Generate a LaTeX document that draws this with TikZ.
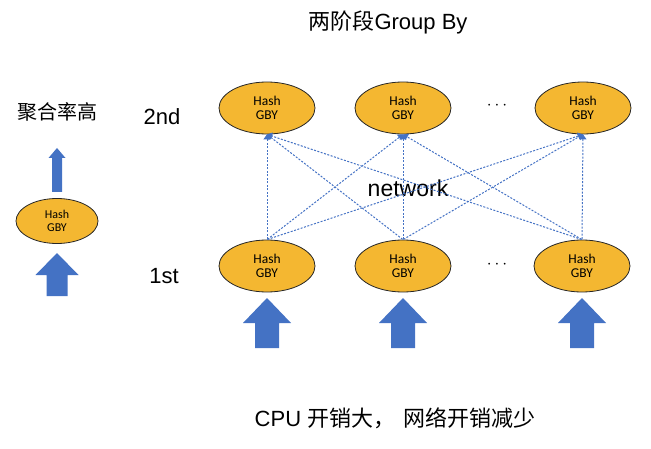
\documentclass[tikz,border=0pt]{standalone}
\usepackage{fontspec}
\setmainfont{Liberation Sans}
\newfontfamily\cjk{Noto Sans CJK SC}
\newfontfamily\gbyfont{Carlito}
\usepackage{xcolor}
\usepackage{tikz}
\usetikzlibrary{shapes,arrows.meta,positioning}
\definecolor{gbyfill}{HTML}{F4B731}
\definecolor{flowblue}{HTML}{4472C4}

\begin{document}
\begin{tikzpicture}[
        x=1pt, y=1pt,
        gby/.style={ellipse, draw=black!85, line width=0.8pt, fill=gbyfill, minimum width=96pt, minimum height=52pt, inner sep=0pt, align=center, font=\gbyfont\fontsize{13.5}{14.5}\selectfont},
        small/.style={minimum width=82pt, minimum height=45pt, font=\gbyfont\fontsize{12}{13.5}\selectfont},
        txt/.style={inner sep=0pt, font=\fontsize{22}{24}\selectfont},
        dots/.style={inner sep=0pt, font=\fontsize{18}{20}\selectfont},
        net/.style={-{Triangle[width=7pt,length=5pt]}, flowblue, line width=1pt, dash pattern=on 2pt off 1.5pt, shorten <=0.5pt},
        pics/upblock/.style n args={4}{code={
            \fill[flowblue] (-#4/2,0) -- (#4/2,0) -- (#4/2,#1-#2) -- (#3/2,#1-#2) -- (0,#1) -- (-#3/2,#1-#2) -- (-#4/2,#1-#2) -- cycle;
        }},
        ]
      \useasboundingbox (0,0) rectangle (651,448);

      \node [txt] (title) at (388,426) {{\cjk 两阶段}Group By};
      \node [txt] (summary) at (395,30) {CPU {\cjk 开销大，\hspace{8pt}网络开销减少}};

      \node [gby] (top-1) at (267,340) {Hash\\GBY};
      \node [gby] (top-2) at (403,340) {Hash\\GBY};
      \node [gby] (top-3) at (583,340) {Hash\\GBY};
      \node [dots] (top-dots) at (497,342) {$\cdots$};

      \node [gby] (bot-1) at (267,182) {Hash\\GBY};
      \node [gby] (bot-2) at (403,182) {Hash\\GBY};
      \node [gby] (bot-3) at (582,182) {Hash\\GBY};
      \node [dots] (bot-dots) at (497,183) {$\cdots$};

      \node [txt] (second) at (162,331) {2nd};
      \node [txt] (first) at (164,172) {1st};
      \node [txt, font=\fontsize{23}{25}\selectfont] (network) at (408,260) {network};

      \foreach \i in {1,2,3}
        \foreach \j in {1,2,3}
          \draw[net] (bot-\i.north) -- (top-\j.south);

      \pic at (267,100) {upblock={50}{25}{48}{24}};
      \pic at (403,100) {upblock={50}{25}{48}{24}};
      \pic at (582,100) {upblock={50}{25}{48}{24}};

      \node [gby, small] (side) at (57,227) {Hash\\GBY};
      \pic at (57,152) {upblock={43}{22}{43}{21}};
      \pic at (57,256) {upblock={44}{10}{17}{10}};
      \node [txt, font=\cjk\fontsize{20}{24}\selectfont] (ratio) at (57,336) {聚合率高};
    \end{tikzpicture}
\end{document}
